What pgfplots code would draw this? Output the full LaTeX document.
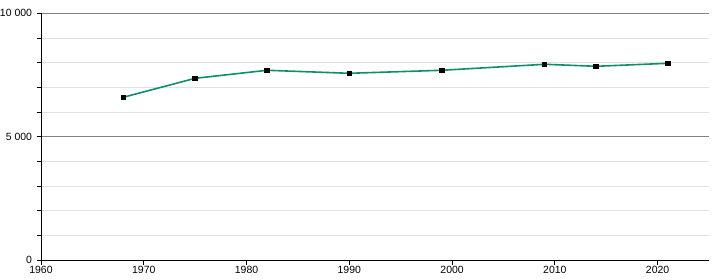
\documentclass[border=0pt]{standalone}
\usepackage{pgfplots}
\pgfplotsset{compat=1.18}
\usepackage{fontspec}
\setmainfont{Liberation Sans}
\definecolor{linegreen}{RGB}{16,142,104}
\definecolor{majgrid}{RGB}{130,130,130}
\definecolor{mingrid}{RGB}{225,225,225}
\begin{document}
\begin{tikzpicture}
\path[use as bounding box] (-41bp,-20bp) rectangle (679bp,260bp);
\begin{axis}[
  at={(0,0)}, anchor=south west,
  scale only axis,
  width=668bp, height=246.7bp,
  xmin=1960, xmax=2025,
  ymin=0, ymax=10000,
  scaled y ticks=false,
  axis x line*=bottom,
  axis y line*=left,
  axis line style={black, line width=0.9bp, -},
  xtick={1960,1970,...,2020},
  xticklabels={1960,1970,1980,1990,2000,2010,2020},
  ytick={0,5000,10000},
  yticklabels={0,5 000,10 000},
  minor ytick={1000,2000,3000,4000,6000,7000,8000,9000},
  ymajorgrids, yminorgrids,
  major grid style={majgrid, line width=0.9bp},
  minor grid style={mingrid, line width=0.9bp},
  tick align=outside,
  major tick length=4.5bp,
  minor tick length=4.5bp,
  tick style={black, line width=0.8bp},
  tick label style={font=\fontsize{10.5}{12}\selectfont},
  /pgf/number format/assume math mode=true,
  yticklabel style={xshift=-1bp},
  xticklabel style={yshift=1.5bp},
  clip=false,
]
\addplot[linegreen, line width=1.6bp, mark=square*, mark size=2.2bp,
  mark options={black, fill=black, line width=0pt}]
  coordinates {
  (1968,6595) (1975,7365) (1982,7690) (1990,7568) (1999,7690)
  (2009,7933) (2014,7852) (2021,7973)
  };
\end{axis}
\end{tikzpicture}
\end{document}
